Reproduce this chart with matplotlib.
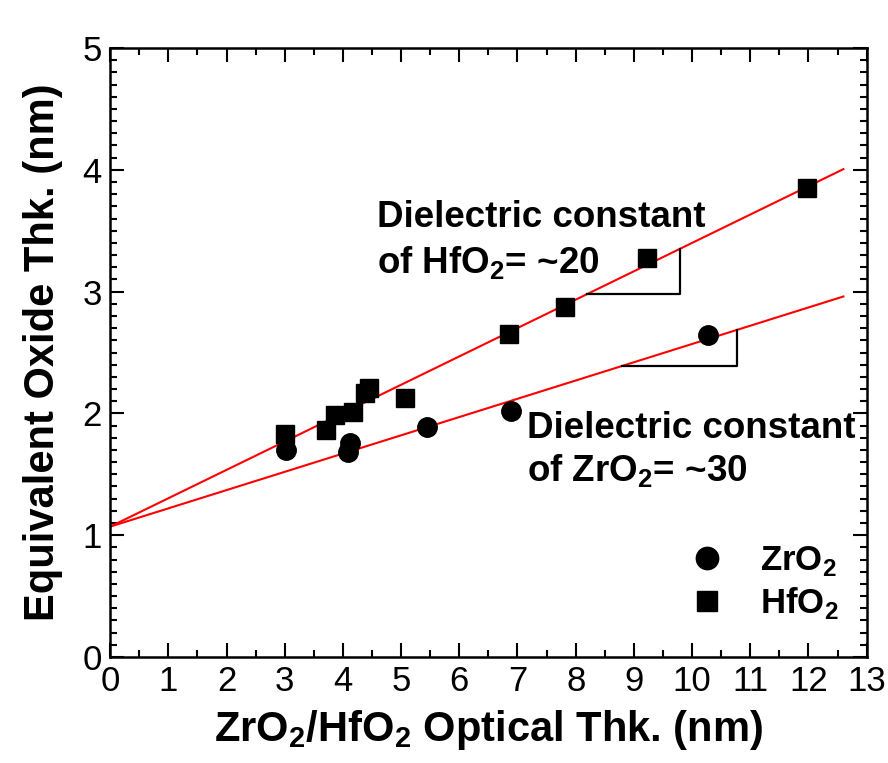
import matplotlib
matplotlib.use("Agg")
import matplotlib.pyplot as plt
import numpy as np
from matplotlib.ticker import MultipleLocator

plt.rcParams['font.family'] = ['Liberation Sans', 'DejaVu Sans']
plt.rcParams['mathtext.fontset'] = 'custom'
plt.rcParams['mathtext.rm'] = 'Liberation Sans'
plt.rcParams['mathtext.bf'] = 'Liberation Sans:bold'

# Data
zro2_x = [3.02, 4.09, 4.13, 5.45, 6.88, 10.27]
zro2_y = [1.70, 1.68, 1.76, 1.89, 2.02, 2.64]
hfo2_x = [3.01, 3.71, 3.87, 4.18, 4.38, 4.45, 5.07, 6.86, 7.82, 9.23, 11.97]
hfo2_y = [1.83, 1.86, 1.99, 2.01, 2.17, 2.21, 2.13, 2.65, 2.87, 3.28, 3.85]

# Fit lines (intercept, slope) and extent
fit_intercept = [1.07, 1.07]       # HfO2, ZrO2
fit_slope = [0.233, 0.150]
fit_xmax = [12.6, 12.6]
# slope triangles (x start, x end) on each line
tri_x = [(8.19, 9.80), (8.80, 10.77)]

fig = plt.figure(figsize=(8.88, 7.63), dpi=100)
ax = fig.add_axes([0.124, 0.139, 0.852, 0.798])

for b, m, xm in zip(fit_intercept, fit_slope, fit_xmax):
    xs = np.array([0, xm])
    ax.plot(xs, b + m * xs, color='red', lw=1.5, zorder=2)

for (x0, x1), b, m in zip(tri_x, fit_intercept, fit_slope):
    y0 = b + m * x0
    y1 = b + m * x1
    ax.plot([x0, x1, x1], [y0, y0, y1], color='black', lw=1.6, zorder=2)

ax.plot(zro2_x, zro2_y, 'o', color='black', ms=14, ls='none', zorder=3, label='ZrO$_\\mathbf{2}$')
ax.plot(hfo2_x, hfo2_y, 's', color='black', ms=12.5, ls='none', zorder=3, label='HfO$_\\mathbf{2}$')

ax.set_xlim(0, 13)
ax.set_ylim(0, 5)
ax.xaxis.set_major_locator(MultipleLocator(1))
ax.xaxis.set_minor_locator(MultipleLocator(0.5))
ax.yaxis.set_major_locator(MultipleLocator(1))
ax.yaxis.set_minor_locator(MultipleLocator(0.1))
ax.tick_params(which='both', direction='in', top=True, right=True, width=1.5)
ax.tick_params(which='major', length=10, labelsize=25, pad=6)
ax.tick_params(which='minor', length=5)
for s in ax.spines.values():
    s.set_linewidth(1.8)

ax.set_xlabel('ZrO$_\\mathbf{2}$/HfO$_\\mathbf{2}$ Optical Thk. (nm)', fontsize=30, fontweight='bold', labelpad=7)
ax.set_ylabel('Equivalent Oxide Thk. (nm)', fontsize=30, fontweight='bold', labelpad=14)

tkw = dict(fontsize=26.5, fontweight='bold', ha='left', va='baseline')
ax.text(4.59, 3.53, 'Dielectric constant', **tkw)
ax.text(4.59, 3.15, 'of HfO$_\\mathbf{2}$= ~20', **tkw)
ax.text(7.17, 1.80, 'Dielectric constant', **tkw)
ax.text(7.17, 1.44, 'of ZrO$_\\mathbf{2}$= ~30', **tkw)

ax.legend(loc='center left', bbox_to_anchor=(0.754, 0.122), frameon=False,
          prop={'weight': 'bold', 'size': 25}, handlelength=1.5, handletextpad=0.78,
          labelspacing=0.2, borderpad=0, borderaxespad=0, markerscale=1.15)

fig.savefig('out.png', dpi=100)
